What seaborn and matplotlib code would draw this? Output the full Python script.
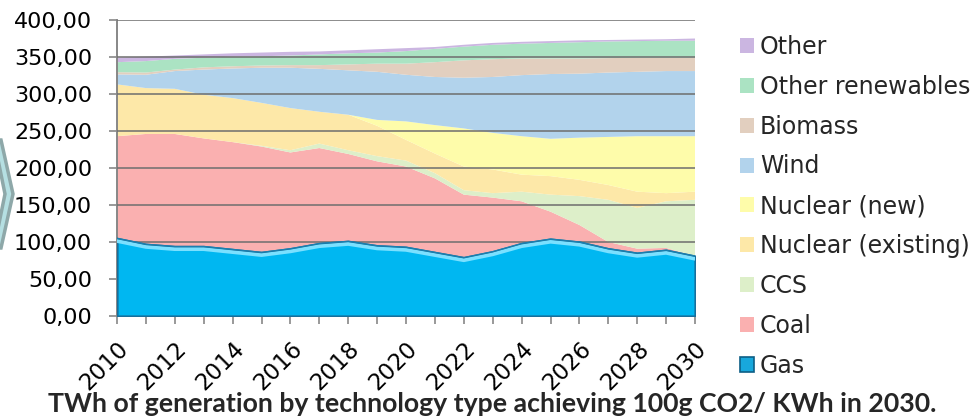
import numpy as np
import matplotlib
matplotlib.use("Agg")
import matplotlib.pyplot as plt
import seaborn as sns
from matplotlib.patches import Patch, Polygon
import matplotlib.patheffects as pe
from matplotlib.ticker import FuncFormatter, MultipleLocator

# ---------------- data (TWh) ----------------
years = list(range(2010, 2031))
series_names = ["Gas", "Coal", "CCS", "Nuclear (existing)", "Nuclear (new)",
                "Wind", "Biomass", "Other renewables", "Other"]
gas = [105, 97, 94, 94, 90, 86, 91, 98, 101, 95, 93, 86, 79, 87, 98, 104, 100, 91, 85, 89, 81]
coal = [138, 149, 152, 146, 145, 143, 130, 129, 118, 114, 109, 100, 85, 73, 57, 37, 23, 9, 6, 3, 0]
ccs = [0, 0, 0, 0, 0, 1, 3, 6, 5, 7, 8, 7, 6, 6, 13, 23, 39, 57, 55, 63, 76]
nuclear_existing = [70, 62, 61, 59, 59.5, 58, 57, 43, 48, 41, 28, 26.5, 32, 32, 23, 25, 22, 20, 22, 11, 11]
nuclear_new = [0, 0, 0, 0, 0, 0, 0, 0, 0, 8, 25, 38.5, 51.5, 49.5, 52, 50.5, 57, 65, 75, 77, 75]
wind = [13.5, 18, 24, 34, 40, 47.5, 54.5, 58, 60, 65, 63, 65, 68.5, 75.5, 82.5, 87.5, 86.5, 87, 87, 88, 88]
biomass = [3, 3, 2, 3, 3, 3, 3.5, 5, 8, 11, 15, 20, 23.5, 24, 22.5, 21, 20.5, 19.5, 19, 18, 18]
other_renewables = [13.5, 15.5, 14.5, 13, 13, 12.5, 13, 14.5, 15, 15, 17, 18, 18.5, 19.5, 20, 21, 22, 22.5, 22.5, 23, 23]
other = [6, 6, 4.5, 4.5, 4.5, 5, 5, 4, 4, 4.5, 4, 2.5, 2.5, 2.5, 2.5, 2.5, 2.5, 2, 2, 2, 3]
year_labels = [str(y) if y % 2 == 0 else "" for y in years]
title = "TWh of generation by technology type achieving 100g CO2/ KWh in 2030."

colors = {
    "Gas": "#00B7F1",
    "Coal": "#FAB0B0",
    "CCS": "#DDEFC9",
    "Nuclear (existing)": "#FDE8A8",
    "Nuclear (new)": "#FEFCAA",
    "Wind": "#B2D3EC",
    "Biomass": "#E2CFBF",
    "Other renewables": "#ABE3C3",
    "Other": "#CBB6E1",
}

sns.set_theme(style="white")
plt.rcParams["font.family"] = ["DejaVu Sans"]

fig = plt.figure(figsize=(9.76, 4.18), dpi=100)
ax = fig.add_axes([117 / 976, 102 / 418, 578 / 976, 296 / 418])

layers = [gas, coal, ccs, nuclear_existing, nuclear_new, wind, biomass, other_renewables, other]
x = np.array(years, dtype=float)
base = np.zeros(len(years))
handles = {}
for name, vals in zip(series_names, layers):
    top = base + np.array(vals, dtype=float)
    if name == "Gas":
        ax.fill_between(x, base, top, facecolor=colors[name], edgecolor="#176f9c",
                        linewidth=1.6, zorder=4)
        ax.plot(x, top, color="#1a80b0", lw=0.9, zorder=5,
                path_effects=[pe.SimpleLineShadow(offset=(0, -2.0), shadow_color="#7be0ff",
                                                  alpha=1.0, linewidth=2.6),
                              pe.Normal()])
        handles[name] = Patch(facecolor="#18a8dc", edgecolor="#0d5f86", linewidth=1.2)
    else:
        ax.fill_between(x, base, top, facecolor=colors[name], edgecolor="none",
                        linewidth=0, zorder=2)
        handles[name] = Patch(facecolor=colors[name], edgecolor="none")
    base = top

# grid lines (over light areas, hidden by the gas area)
for v in np.arange(50, 401, 50):
    ax.axhline(v, color="#6e6e6e", lw=1.3, alpha=0.85, zorder=3)

ax.set_xlim(2010, 2030)
ax.set_ylim(0, 400)
ax.yaxis.set_major_locator(MultipleLocator(50))
ax.yaxis.set_major_formatter(FuncFormatter(lambda v, p: f"{v:.2f}".replace(".", ",")))
ax.set_xticks(years)
ax.set_xticklabels(year_labels, rotation=45, ha="right", rotation_mode="anchor")

for s in ["top", "right"]:
    ax.spines[s].set_visible(False)
for s in ["left", "bottom"]:
    ax.spines[s].set_color("#878787")
    ax.spines[s].set_linewidth(1.4)
ax.tick_params(axis="y", which="major", direction="out", length=6, width=1.2,
               color="#878787", pad=12, labelsize=16, labelcolor="black", left=True)
ax.tick_params(axis="x", which="major", direction="out", length=6, width=1.2,
               color="#878787", pad=9, labelsize=16.5, labelcolor="black", bottom=True)
ax.grid(False)

# legend (top series first)
order = series_names[::-1]
leg = fig.legend([handles[n] for n in order], order, loc="upper left",
                 bbox_to_anchor=(740 / 976, 1 - 35 / 418), frameon=False,
                 fontsize=17, handlelength=0.6, handleheight=0.6,
                 handletextpad=0.25, labelspacing=0.67, borderpad=0, borderaxespad=0)

fig.text(492 / 976, 1 - 412 / 418, title, ha="center", va="baseline",
         fontsize=19.2, fontweight="bold", family=["Lato", "DejaVu Sans"])

# left decorative chevron
def px(xp, yp):
    return (xp / 976, 1 - yp / 418)
chev = Polygon([px(-6, 140), px(1, 140), px(13, 194), px(1, 248), px(-6, 248), px(5, 194)],
               closed=True, transform=fig.transFigure, facecolor="#b5dfe2",
               edgecolor="#8ea8a9", linewidth=2.5, zorder=0)
fig.patches.append(chev)

fig.savefig("out.png", dpi=100)
